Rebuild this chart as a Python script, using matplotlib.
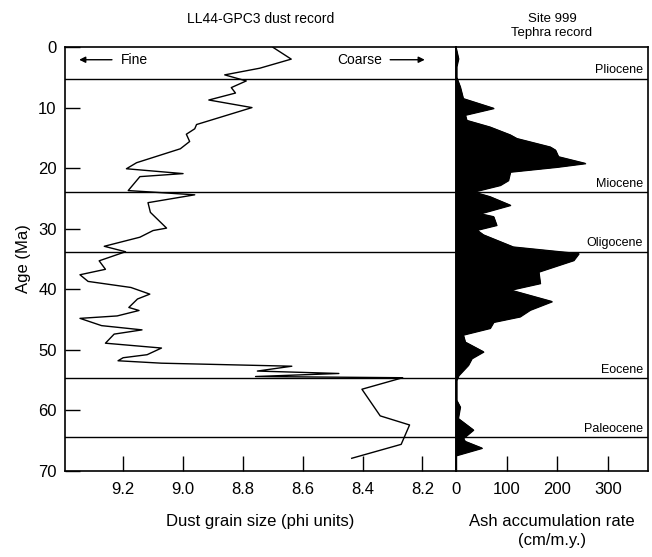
import matplotlib
matplotlib.use("Agg")
import matplotlib.pyplot as plt

plt.rcParams['font.family'] = ['Liberation Sans', 'DejaVu Sans']

# Dust grain size record (phi units) vs age (Ma)
dust_age = [0.05, 2.0, 3.5, 4.6, 5.6, 6.7, 7.6, 8.75, 10.0, 12.8, 13.5, 14.4, 15.6, 16.8,
            19.1, 20.1, 20.9, 21.4, 23.7, 24.4, 25.7, 27.3, 29.9, 30.3, 31.4, 32.9, 33.8,
            35.3, 36.7, 37.6, 38.7, 39.7, 40.8, 41.6, 43.0, 43.5, 44.4, 44.8, 46.0, 46.7,
            47.4, 48.9, 49.7, 50.8, 51.3, 51.8, 52.2, 52.7, 53.5, 53.9, 54.4, 54.6, 56.5,
            60.9, 62.4, 65.6, 67.9]
dust_phi = [8.699, 8.638, 8.743, 8.86, 8.788, 8.838, 8.824, 8.913, 8.769, 8.954, 8.96, 8.988,
            8.977, 9.008, 9.154, 9.188, 8.999, 9.143, 9.182, 8.96, 9.116, 9.108, 9.054, 9.099,
            9.143, 9.262, 9.191, 9.279, 9.258, 9.343, 9.316, 9.173, 9.11, 9.151, 9.18, 9.146,
            9.219, 9.343, 9.271, 9.136, 9.229, 9.258, 9.071, 9.119, 9.199, 9.216, 9.071, 8.636,
            8.751, 8.479, 8.757, 8.266, 8.402, 8.341, 8.243, 8.271, 8.436]

# Tephra (ash accumulation rate, cm/m.y.) vs age (Ma)
ash_age = [0.2, 1.9, 3.2, 5.0, 6.55, 8.5, 10.1, 11.2, 12.1, 13.2, 14.5, 15.1, 16.5, 17.0,
           18.1, 19.2, 19.8, 20.6, 22.0, 22.8, 23.9, 24.7, 26.1, 27.5, 28.0, 29.4, 30.2,
           31.0, 33.0, 34.1, 35.2, 37.1, 39.0, 40.1, 42.0, 43.4, 44.5, 45.4, 46.4, 47.5,
           48.7, 50.3, 51.4, 52.5, 54.2, 55.0, 58.3, 59.4, 61.3, 63.2, 64.6, 65.1, 66.2,
           67.4, 67.5]
ash_rate = [0, 4.6, 1, 1, 8, 14, 74, 18, 21, 67, 107, 120, 186, 196, 202, 255, 199, 107, 103,
            87, 34, 67, 107, 47, 74, 80, 41, 54, 113, 242, 232, 163, 166, 107, 189, 146, 126,
            74, 67, 14, 18, 54, 31, 24, 5, 1, 1, 8, 4, 34, 14, 18, 51, 1, 0]

boundary_age = [5.3, 23.9, 33.8, 54.7, 64.4]
epoch_names = ['Pliocene', 'Miocene', 'Oligocene', 'Eocene', 'Paleocene']
epoch_label_age = [3.8, 22.6, 32.4, 53.3, 63.0]

phi_ticks = [9.2, 9.0, 8.8, 8.6, 8.4, 8.2]
ash_ticks = [0, 100, 200, 300]
age_ticks = [0, 10, 20, 30, 40, 50, 60, 70]

fig = plt.figure(figsize=(6.52, 5.57), dpi=100)
axL = fig.add_axes([0.0997, 0.1544, 0.5997, 0.7612])
axR = fig.add_axes([0.6994, 0.1544, 0.2945, 0.7612])

axL.plot(dust_phi, dust_age, color='black', lw=1.0)
axL.set_xlim(9.393, 8.088)
axL.set_ylim(70, 0)
axL.set_xticks(phi_ticks)
axL.set_xticklabels([f'{v:.1f}' for v in phi_ticks])
axL.set_yticks(age_ticks)
axL.tick_params(direction='in', length=11, width=1, labelsize=12, pad=6)
axL.tick_params(axis='x', pad=8)
axL.set_xlabel('Dust grain size (phi units)', fontsize=12, labelpad=12)
axL.set_ylabel('Age (Ma)', fontsize=12, labelpad=5)
axL.set_title('LL44-GPC3 dust record', fontsize=10, pad=17)

axR.fill_betweenx(ash_age, 0, ash_rate, color='black', lw=0.8)
axR.plot(ash_rate, ash_age, color='black', lw=0.8)
axR.set_xlim(0, 379)
axR.set_ylim(70, 0)
axR.set_xticks(ash_ticks)
axR.set_yticks([])
axR.tick_params(direction='in', length=11, width=1, labelsize=12, pad=8)
axR.set_xlabel('Ash accumulation rate\n(cm/m.y.)', fontsize=12, labelpad=12, linespacing=1.35)
axR.set_title('Site 999\nTephra record', fontsize=9.5, pad=8, linespacing=1.2)

for ax in (axL, axR):
    for s in ax.spines.values():
        s.set_linewidth(1.2)
    for b in boundary_age:
        ax.axhline(b, color='black', lw=1.0)

for name, a in zip(epoch_names, epoch_label_age):
    axR.text(0.975, a, name, transform=axR.get_yaxis_transform(), ha='right', va='center', fontsize=9)

# Fine / Coarse arrows
axL.annotate('', xy=(9.355, 2.1), xytext=(9.227, 2.1),
             arrowprops=dict(arrowstyle='-|>', color='black', lw=1, mutation_scale=9))
axL.text(9.207, 2.1, 'Fine', ha='left', va='center', fontsize=10)
axL.text(8.333, 2.1, 'Coarse', ha='right', va='center', fontsize=10)
axL.annotate('', xy=(8.183, 2.1), xytext=(8.317, 2.1),
             arrowprops=dict(arrowstyle='-|>', color='black', lw=1, mutation_scale=9))

fig.savefig('out.png', dpi=100)
